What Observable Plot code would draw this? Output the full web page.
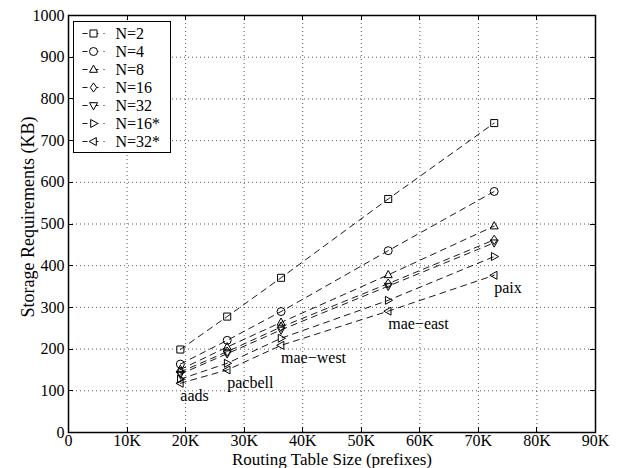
<!DOCTYPE html>
<html>
<head>
<meta charset="utf-8">
<script src="https://cdn.jsdelivr.net/npm/d3@7"></script>
<script src="https://cdn.jsdelivr.net/npm/@observablehq/plot@0.6"></script>
<style>
  html, body { margin: 0; padding: 0; background: white; }
</style>
</head>
<body>
<div id="chart"></div>
<script>
// ---- data ----
const sites = ["aads", "pacbell", "mae\u2212west", "mae\u2212east", "paix"];
const prefixes = [19100, 27100, 36300, 54600, 72700];
const seriesNames = ["N=2", "N=4", "N=8", "N=16", "N=32", "N=16*", "N=32*"];
const n2   = [199, 278, 371, 560, 742];
const n4   = [164, 221, 290, 436, 578];
const n8   = [151, 205, 264, 378, 495];
const n16  = [145, 194, 253, 357, 462];
const n32  = [140, 189, 246, 351, 455];
const n16s = [128, 166, 226, 317, 422];
const n32s = [118, 150, 209, 291, 377];
const seriesValues = [n2, n4, n8, n16, n32, n16s, n32s];
const xTicks = [0, 10000, 20000, 30000, 40000, 50000, 60000, 70000, 80000, 90000];
const yTicks = [0, 100, 200, 300, 400, 500, 600, 700, 800, 900, 1000];
const xTitle = "Routing Table Size (prefixes)";
const yTitle = "Storage Requirements (KB)";

// ---- table ----
const rows = [];
seriesNames.forEach((s, i) => {
  prefixes.forEach((p, j) => rows.push({series: s, x: p, y: seriesValues[i][j]}));
});
const siteLabels = sites.map((name, j) => ({
  name, x: prefixes[j], y: d3.min(seriesValues, v => v[j])
}));

// ---- marker shapes ----
function drawShape(ctx, k, r) {
  switch (k) {
    case 0: { const h = r * 0.88; ctx.rect(-h, -h, 2 * h, 2 * h); break; }
    case 1: ctx.moveTo(r, 0); ctx.arc(0, 0, r, 0, 2 * Math.PI); break;
    case 2: ctx.moveTo(0, -r * 1.1); ctx.lineTo(r, r * 0.7); ctx.lineTo(-r, r * 0.7); ctx.closePath(); break;
    case 3: ctx.moveTo(0, -r * 1.15); ctx.lineTo(r * 0.8, 0); ctx.lineTo(0, r * 1.15); ctx.lineTo(-r * 0.8, 0); ctx.closePath(); break;
    case 4: ctx.moveTo(0, r * 1.1); ctx.lineTo(r, -r * 0.7); ctx.lineTo(-r, -r * 0.7); ctx.closePath(); break;
    case 5: ctx.moveTo(r * 1.1, 0); ctx.lineTo(-r * 0.7, r); ctx.lineTo(-r * 0.7, -r); ctx.closePath(); break;
    case 6: ctx.moveTo(-r * 1.1, 0); ctx.lineTo(r * 0.7, r); ctx.lineTo(r * 0.7, -r); ctx.closePath(); break;
  }
}
const symbols = seriesNames.map((_, k) => ({
  draw(ctx, size) { drawShape(ctx, k, Math.sqrt(size / Math.PI)); }
}));
const R = 4;

// ---- custom marks ----
function innerTicks(index, scales, values, dims) {
  const {x, y} = scales;
  const g = d3.create("svg:g").attr("stroke", "black").attr("stroke-width", 1);
  const top = dims.marginTop, bottom = dims.height - dims.marginBottom;
  const left = dims.marginLeft, right = dims.width - dims.marginRight;
  const L = 5;
  for (const t of xTicks) {
    const px = Math.round(x(t)) + 0.5;
    g.append("line").attr("x1", px).attr("x2", px).attr("y1", bottom).attr("y2", bottom - L);
    g.append("line").attr("x1", px).attr("x2", px).attr("y1", top).attr("y2", top + L);
  }
  for (const t of yTicks) {
    const py = Math.round(y(t)) + 0.5;
    g.append("line").attr("y1", py).attr("y2", py).attr("x1", left).attr("x2", left + L);
    g.append("line").attr("y1", py).attr("y2", py).attr("x1", right).attr("x2", right - L);
  }
  return g.node();
}

function legend(index, scales, values, dims) {
  const g = d3.create("svg:g");
  const x0 = dims.marginLeft + 5.5, y0 = dims.marginTop + 6.5;
  const rowH = 18;
  g.append("rect").attr("x", x0).attr("y", y0).attr("width", 97).attr("height", 12 + rowH * (seriesNames.length - 1) + 11)
    .attr("fill", "white").attr("stroke", "black").attr("stroke-width", 1);
  seriesNames.forEach((s, i) => {
    const cy = y0 + 12 + i * rowH;
    g.append("line").attr("x1", x0 + 9).attr("x2", x0 + 31).attr("y1", cy).attr("y2", cy)
      .attr("stroke", "black").attr("stroke-width", 0.9).attr("stroke-dasharray", "6,5").attr("stroke-dashoffset", 1);
    const p = d3.path();
    drawShape(p, i, R);
    g.append("path").attr("d", p.toString()).attr("transform", `translate(${x0 + 20},${cy})`)
      .attr("fill", "white").attr("stroke", "black").attr("stroke-width", 1);
    g.append("text").attr("x", x0 + 42).attr("y", cy).attr("dy", "0.34em")
      .attr("text-anchor", "start")
      .attr("fill", "black").attr("font-size", 16).text(s);
  });
  return g.node();
}

const fmtX = d => d === 0 ? "0" : (d / 1000) + "K";
const fmtY = d => String(d);

const chart = Plot.plot({
  width: 631,
  height: 468,
  marginLeft: 68,
  marginRight: 36,
  marginTop: 15,
  marginBottom: 36,
  x: {domain: [0, 90000]},
  y: {domain: [0, 1000]},
  style: {
    fontFamily: "'Liberation Serif', 'Times New Roman', serif",
    fontSize: "16px",
    background: "white",
    color: "black",
    overflow: "visible"
  },
  marks: [
    Plot.ruleX(xTicks.slice(1, -1), {stroke: "#000", strokeOpacity: 0.65, strokeDasharray: "1,3"}),
    Plot.ruleY(yTicks.slice(1, -1), {stroke: "#000", strokeOpacity: 0.65, strokeDasharray: "1,3"}),
    Plot.line(rows, {x: "x", y: "y", z: "series", stroke: "black", strokeWidth: 0.9, strokeDasharray: "6,5"}),
    ...seriesNames.map((s, i) => Plot.dot(rows.filter(d => d.series === s), {
      x: "x", y: "y", r: R, symbol: symbols[i], stroke: "black", fill: "none", strokeWidth: 1
    })),
    Plot.text(siteLabels, {x: "x", y: "y", text: "name", textAnchor: "start", dy: 13, fontSize: 16, fill: "black"}),
    Plot.frame({stroke: "black", strokeWidth: 1.5}),
    innerTicks,
    Plot.axisX({ticks: xTicks, tickFormat: fmtX, tickSize: 0, tickPadding: 2, label: null, fontSize: 16}),
    Plot.axisY({ticks: yTicks, tickFormat: fmtY, tickSize: 0, tickPadding: 4, label: null, fontSize: 16}),
    Plot.text([xTitle], {frameAnchor: "bottom", textAnchor: "middle", lineAnchor: "bottom", dy: 32.5, fontSize: 17, fill: "black"}),
    Plot.text([yTitle], {frameAnchor: "left", textAnchor: "middle", rotate: -90, lineAnchor: "bottom", dx: -35, dy: -7, fontSize: 18, fill: "black"}),
    legend
  ]
});
document.getElementById("chart").appendChild(chart);
</script>
</body>
</html>
